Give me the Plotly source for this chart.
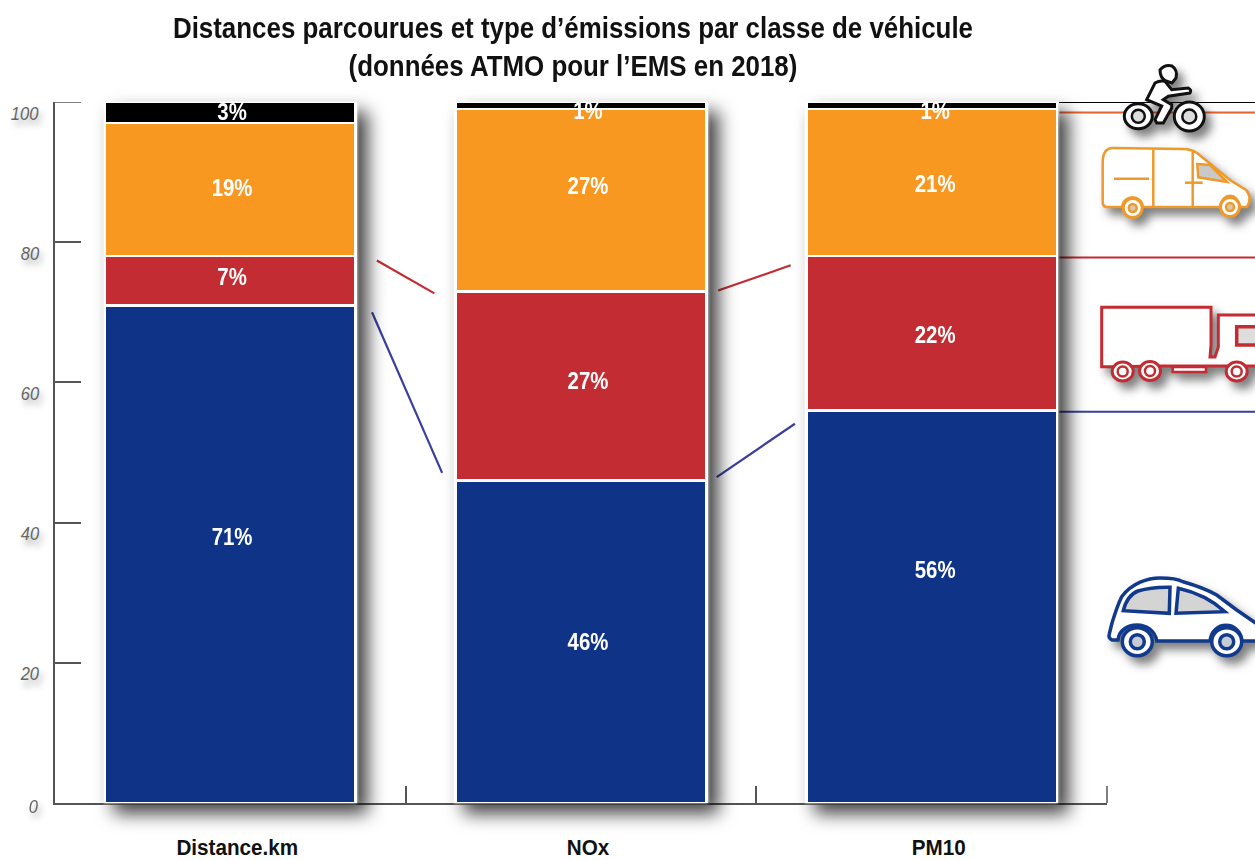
import re
import plotly.graph_objects as go

# ---- data ----
categories = ["Distance.km", "NOx", "PM10"]
voitures = [71, 46, 56]
poids_lourds = [7, 27, 22]
utilitaires = [19, 26, 21]
deux_roues = [3, 1, 1]
labels_voitures = ["71%", "46%", "56%"]
labels_poids_lourds = ["7%", "27%", "22%"]
labels_utilitaires = ["19%", "27%", "21%"]
labels_deux_roues = ["3%", "1%", "1%"]
# where the labels sit in the picture (not always centred in the segment)
label_x = [0.005, 1.02, 2.01]
label_y_voitures = [37.6, 22.7, 32.9]
label_y_poids_lourds = [74.7, 59.9, 66.5]
label_y_utilitaires = [87.4, 87.7, 88.0]
label_y_deux_roues = [98.3, 98.5, 98.5]
y_ticks = [0, 20, 40, 60, 80, 100]
y_tick_text = ["", "20", "40", "60", "80", "100"]
# connectors: (x0, y0, x1, y1) in axis units
connectors_red = [(0.418, 77.4, 0.582, 72.7), (1.391, 73.1, 1.598, 76.7)]
connectors_blue = [(0.404, 70, 0.604, 47.1), (1.387, 46.5, 1.61, 54.1)]
# right-hand guides: value, colour
guide_levels = [100, 98.5, 77.8, 55.8]

BLUE, RED, ORANGE, BLACK = "#0f3487", "#c22c32", "#f99820", "#000000"
GUIDE = ["#000000", "#e8622c", "#c22c32", "#3a3f9e"]
FONT = "Liberation Sans, Arial, sans-serif"

W, H = 1255, 860
L, R, T, B = 55, 1107, 102, 803

def px(x, y):
    return (x - L) / (R - L), (B - y) / (B - T)

def path(d):
    """Icon outline given in screen pixels -> paper coordinates."""
    def rep(m):
        a, b = px(float(m.group(1)), float(m.group(2)))
        return f"{a:.5f},{b:.5f}"
    return re.sub(r"(-?[\d.]+),(-?[\d.]+)", rep, d)

def icon_path(d, color, fill="rgba(255,255,255,1)", w=2.5):
    return dict(type="path", xref="paper", yref="paper", layer="above", path=path(d),
                line=dict(color=color, width=w), fillcolor=fill)

def ell(cx, cy, rx, ry, color, fill="white", w=2.5):
    x0, y0 = px(cx - rx, cy + ry)
    x1, y1 = px(cx + rx, cy - ry)
    return dict(type="circle", xref="paper", yref="paper", layer="above",
                x0=x0, y0=y0, x1=x1, y1=y1, line=dict(color=color, width=w), fillcolor=fill)

AX = "#555555"
shapes = []
# axis ticks that fall on the ends of the axes
shapes.append(dict(type="line", xref="paper", yref="y", layer="below", x0=0, x1=26 / (R - L), y0=100, y1=100,
                   line=dict(color=AX, width=1.5)))
shapes.append(dict(type="line", xref="paper", yref="paper", layer="below", x0=1, x1=1, y0=0, y1=17 / (B - T),
                   line=dict(color=AX, width=1.5)))
# guides and connectors, under the icons
for lv, c in zip(guide_levels, GUIDE):
    shapes.append(dict(type="line", xref="paper", yref="y", layer="below",
                       x0=px(1059, 0)[0], x1=px(1256, 0)[0], y0=lv, y1=lv,
                       line=dict(color=c, width=2)))
for seg in connectors_red:
    shapes.append(dict(type="line", xref="x", yref="y", layer="below", x0=seg[0], y0=seg[1], x1=seg[2], y1=seg[3],
                       line=dict(color=RED, width=2.2)))
for seg in connectors_blue:
    shapes.append(dict(type="line", xref="x", yref="y", layer="below", x0=seg[0], y0=seg[1], x1=seg[2], y1=seg[3],
                       line=dict(color="#3a3f9e", width=2.2)))

# motorbike
K = "#111111"
shapes += [ell(1138.3, 116.3, 14, 12.5, K, w=3), ell(1138.3, 116.3, 6.5, 6.5, K, "#dddddd", 2.5),
           ell(1189.3, 116.5, 15, 14.5, K, w=3), ell(1189.3, 116.5, 7, 7, K, "#dddddd", 2.5)]
shapes.append(icon_path("M1146.7,99.7 L1155,83 Q1160,80 1165,81.3 L1171.7,89.7 L1188.3,88 Q1192,90 1190,93 "
                        "L1168.3,96.3 L1163.3,99.7 L1171.7,104.7 L1171.7,108 L1163.3,123 L1156.7,123 L1155,119.7 L1161.7,106 Z", K, w=3))
shapes.append(icon_path("M1160,70 Q1165,64 1172,66 Q1178,70 1176,78 L1172,83 L1166,81 Q1160,78 1160,70 Z", K, w=3))

# van
O = "#ee9a2a"
shapes.append(icon_path("M1102.7,203 L1102.7,163 C1102.7,153 1106,148 1113,148 L1183,149 C1190,149 1194,151 1197,153 "
                        "L1230,180 L1246,190 C1250,194 1251,201 1247,207 L1240,207 C1238,192 1222,192 1220,207 "
                        "L1143,207 C1141,194 1124,194 1122,207 L1106,207 Q1103,206 1102.7,203 Z", O))
shapes += [icon_path("M1153.3,150 L1153.3,207", O), icon_path("M1192.7,152 L1192.7,207", O),
           icon_path("M1114,178.7 L1149,178.7", O), icon_path("M1185,182.7 L1202.7,182.7", O),
           icon_path("M1197.3,164 L1210,165 L1227,182 L1198.3,177.3 Z", O, "#c9c9c9"),
           ell(1132.7, 208, 9.5, 9.5, O, w=3), ell(1132.7, 208, 4, 4, O, "#d9c8a8", 2.5),
           ell(1230, 207, 9.5, 9.5, O, w=3), ell(1230, 207, 4, 4, O, "#d9c8a8", 2.5)]

# truck
shapes.append(icon_path("M1111.7,366.7 L1101.7,366.7 L1101.7,307.3 L1211,307.3 L1211,345 L1210,357 L1215,357 L1218.3,347 "
                        "L1218.3,315 L1260,315 L1260,366 L1246,366 L1228,366 L1206,366 L1172,366 L1160,366 Z", RED, w=3))
shapes += [icon_path("M1236.7,326.7 L1260,326.7 L1260,345 L1236.7,345 Z", RED, "#dddddd", 3.5),
           icon_path("M1172.7,367 L1206,367 L1206,372 L1172.7,372 Z", RED),
           ell(1122.7, 371.5, 10.5, 9.5, RED, w=3), ell(1122.7, 371.5, 5, 5, RED, "white", 2.5),
           ell(1150, 371, 10.5, 9.5, RED, w=3), ell(1150, 371, 5, 5, RED, "white", 2.5),
           ell(1236.7, 371.5, 10.5, 9.5, RED, w=3), ell(1236.7, 371.5, 5, 5, RED, "white", 2.5)]

# car
C = "#123a8c"
shapes.append(icon_path("M1112,640 Q1108,638 1109.3,634 L1112,623 C1116,610 1118,604 1121.7,596.7 C1132,583 1148,578 1160,578 "
                        "C1172,578 1178,579 1183,581.7 C1198,586 1208,590 1216.7,595 L1236.7,610 L1260,626 L1260,641 "
                        "L1242,641 C1240,620 1212,620 1210,641 L1156.7,641 C1154,620 1120,620 1118,640 Z", C, w=3.5))
shapes += [icon_path("M1123.3,610.7 C1126,600 1130,594 1138,591 C1148,588 1158,587 1170,587.3 L1169.3,613.3 Z", C, "#d4d4d4", 3.5),
           icon_path("M1178.3,588.3 C1195,592 1212,600 1225,611.7 L1176,613.3 Z", C, "#d4d4d4", 3.5),
           ell(1137.3, 641.7, 15, 14, C, w=3.5), ell(1137.3, 641.7, 7, 7, C, "#c7cbd6", 3.5),
           ell(1226.7, 641.7, 15, 14, C, w=3.5), ell(1226.7, 641.7, 7, 7, C, "#c7cbd6", 3.5)]

fig = go.Figure()
series = [("Voitures", voitures, BLUE), ("Poids lourds", poids_lourds, RED),
          ("Utilitaires", utilitaires, ORANGE), ("Deux-roues", deux_roues, BLACK)]
for name, vals, col in series:
    fig.add_trace(go.Bar(name=name, x=categories, y=vals, width=0.715,
                         marker=dict(color=col, line=dict(color="white", width=2.5)),
                         cliponaxis=False, hoverinfo="skip"))

for ly, tx in [(label_y_voitures, labels_voitures), (label_y_poids_lourds, labels_poids_lourds),
               (label_y_utilitaires, labels_utilitaires), (label_y_deux_roues, labels_deux_roues)]:
    fig.add_trace(go.Scatter(x=label_x, y=ly, xaxis="x2", text=tx, mode="text", textposition="middle center",
                             textfont=dict(family=FONT, size=24, color="white", weight="bold"),
                             cliponaxis=True, hoverinfo="skip"))

SH = "3px 5px 6px rgba(0,0,0,0.35)"
fig.update_layout(
    width=W, height=H, barmode="stack", showlegend=False, paper_bgcolor="white", plot_bgcolor="white",
    margin=dict(l=L, r=W - R, t=T, b=H - B, autoexpand=False),
    title=dict(text="Distances parcourues et type d’émissions par classe de véhicule<br>(données ATMO pour l’EMS en 2018)",
               x=573 / W, xanchor="center", xref="container", y=1 - 38 / H, yanchor="top",
               font=dict(family=FONT, size=29, color="#111111", weight="bold")),
    xaxis=dict(type="category", range=[-0.5, 2.5], tickson="boundaries", ticks="inside", ticklen=17, tickwidth=1.5,
               tickcolor=AX, showline=True, linecolor=AX, linewidth=1.5, showgrid=False, layer="below traces",
               tickfont=dict(family=FONT, size=22, color="#111111", weight="bold"), ticklabelstandoff=24, ticklabelshift=7),
    xaxis2=dict(range=[-0.5, 2.5], overlaying="x", anchor="y", visible=False),
    yaxis=dict(range=[0, 100], tickvals=y_ticks, ticktext=y_tick_text, ticks="inside", ticklen=26, tickwidth=1.5,
               tickcolor=AX, showline=True, linecolor=AX, linewidth=1.5, showgrid=False, zeroline=False, layer="below traces",
               tickfont=dict(family=FONT, size=19, color="#666666", style="italic", shadow=SH),
               ticklabelstandoff=9, ticklabelshift=11),
    shapes=shapes,
    annotations=[dict(text="0", xref="paper", yref="y", x=px(41, 0)[0], y=0, xanchor="right", yshift=-3, showarrow=False,
                      font=dict(family=FONT, size=19, color="#666666", style="italic", shadow=SH))],
)

post = """
document.body.style.margin = '0';
var st = document.createElement('style');
st.textContent = `.barlayer{filter:drop-shadow(0 0 1.5px #fff) drop-shadow(10px 10px 9px rgba(0,0,0,.75));}
.layer-above .shapelayer{filter:drop-shadow(6px 7px 5px rgba(0,0,0,.5));}`;
document.head.appendChild(st);
// narrow the lettering to the condensed look of the original
var narrow = [['.gtitle',.893],['.xtick text',.94],['.ytick text',.87],['.annotation-text',.87],['.textpoint text',.85]];
narrow.forEach(function(p){
  document.querySelectorAll(p[0]).forEach(function(t){
    var b = t.getBBox(), c = b.x + b.width/2, tr = t.getAttribute('transform') || '';
    t.setAttribute('transform', tr + ' translate(' + c + ',0) scale(' + p[1] + ',1) translate(' + (-c) + ',0)');
  });
});
"""
fig.write_html("out.html", post_script=post, config=dict(displayModeBar=False))
